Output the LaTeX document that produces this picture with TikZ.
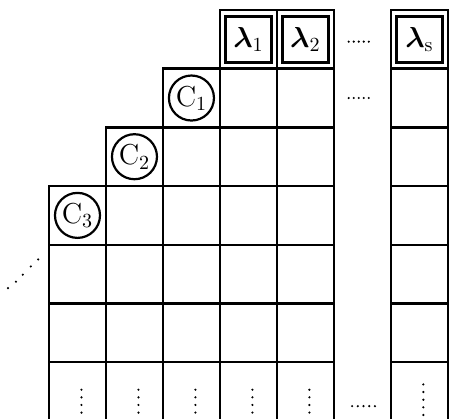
\documentclass[tikz,border=0pt]{standalone}
\usepackage{amsmath, amssymb}
\usepackage{tikz}
\usetikzlibrary{calc}
\tikzset{
  gridline/.style = {draw=black, line width=1.2pt},
  lamcell/.style  = {draw=black, line width=1.5pt, minimum width=0.8cm,
                     minimum height=0.8cm, inner sep=0pt, font=\Large},
  cornlab/.style  = {circle, draw=black, line width=1.1pt, minimum size=0.79cm,
                     inner sep=0pt, font=\Large},
  dotmark/.style  = {fill=black},
}
\newcommand{\dotrow}[3]{% start x, y, step
  \foreach \k in {0,...,4} \fill[dotmark] ({#1+\k*#3},#2) circle (0.6pt);}

\begin{document}
\begin{tikzpicture}[x=1cm, y=1.03cm]
  \useasboundingbox (-0.86,-6.97) rectangle (7.02,0.17);
  % staircase of cells, rows 0..5
  \foreach \r/\s in {0/3,1/2,2/1,3/0,4/0,5/0} {
    \foreach \c in {\s,...,4} \draw[gridline] (\c,-\r) rectangle ++(1,-1);
    \draw[gridline] (6,-\r) rectangle ++(1,-1);
  }
  % last row, open at the bottom
  \foreach \x in {0,1,2,3,4,5,6,7} \draw[gridline] (\x,-6) -- (\x,-6.97);
  % top row: lambda boxes
  \node[lamcell] (lam1) at (3.5,-0.5) {$\boldsymbol{\lambda}_1$};
  \node[lamcell] (lam2) at (4.5,-0.5) {$\boldsymbol{\lambda}_2$};
  \node[lamcell] (lams) at (6.5,-0.5) {$\boldsymbol{\lambda}_{\mathrm{s}}$};
  % corner circles
  \node[cornlab] (c1) at (2.5,-1.5) {C$_1$};
  \node[cornlab] (c2) at (1.5,-2.5) {C$_2$};
  \node[cornlab] (c3) at (0.5,-3.5) {C$_3$};
  % dots between the columns
  \dotrow{5.26}{-0.54}{0.088}
  \dotrow{5.26}{-1.50}{0.088}
  \dotrow{5.32}{-6.75}{0.1}
  % dots down the columns
  \foreach \c in {0,...,4}
    \foreach \k in {0,...,3} \fill[dotmark] (\c+0.57,-6.47-\k*0.13) circle (0.6pt);
  \foreach \k in {0,...,4} \fill[dotmark] (6.57,-6.38-\k*0.13) circle (0.6pt);
  % diagonal dots
  \foreach \p in {(-0.72,-4.74),(-0.58,-4.63),(-0.46,-4.51),(-0.32,-4.37),(-0.19,-4.25)}
    \fill[dotmark] \p circle (0.6pt);
\end{tikzpicture}
\end{document}
